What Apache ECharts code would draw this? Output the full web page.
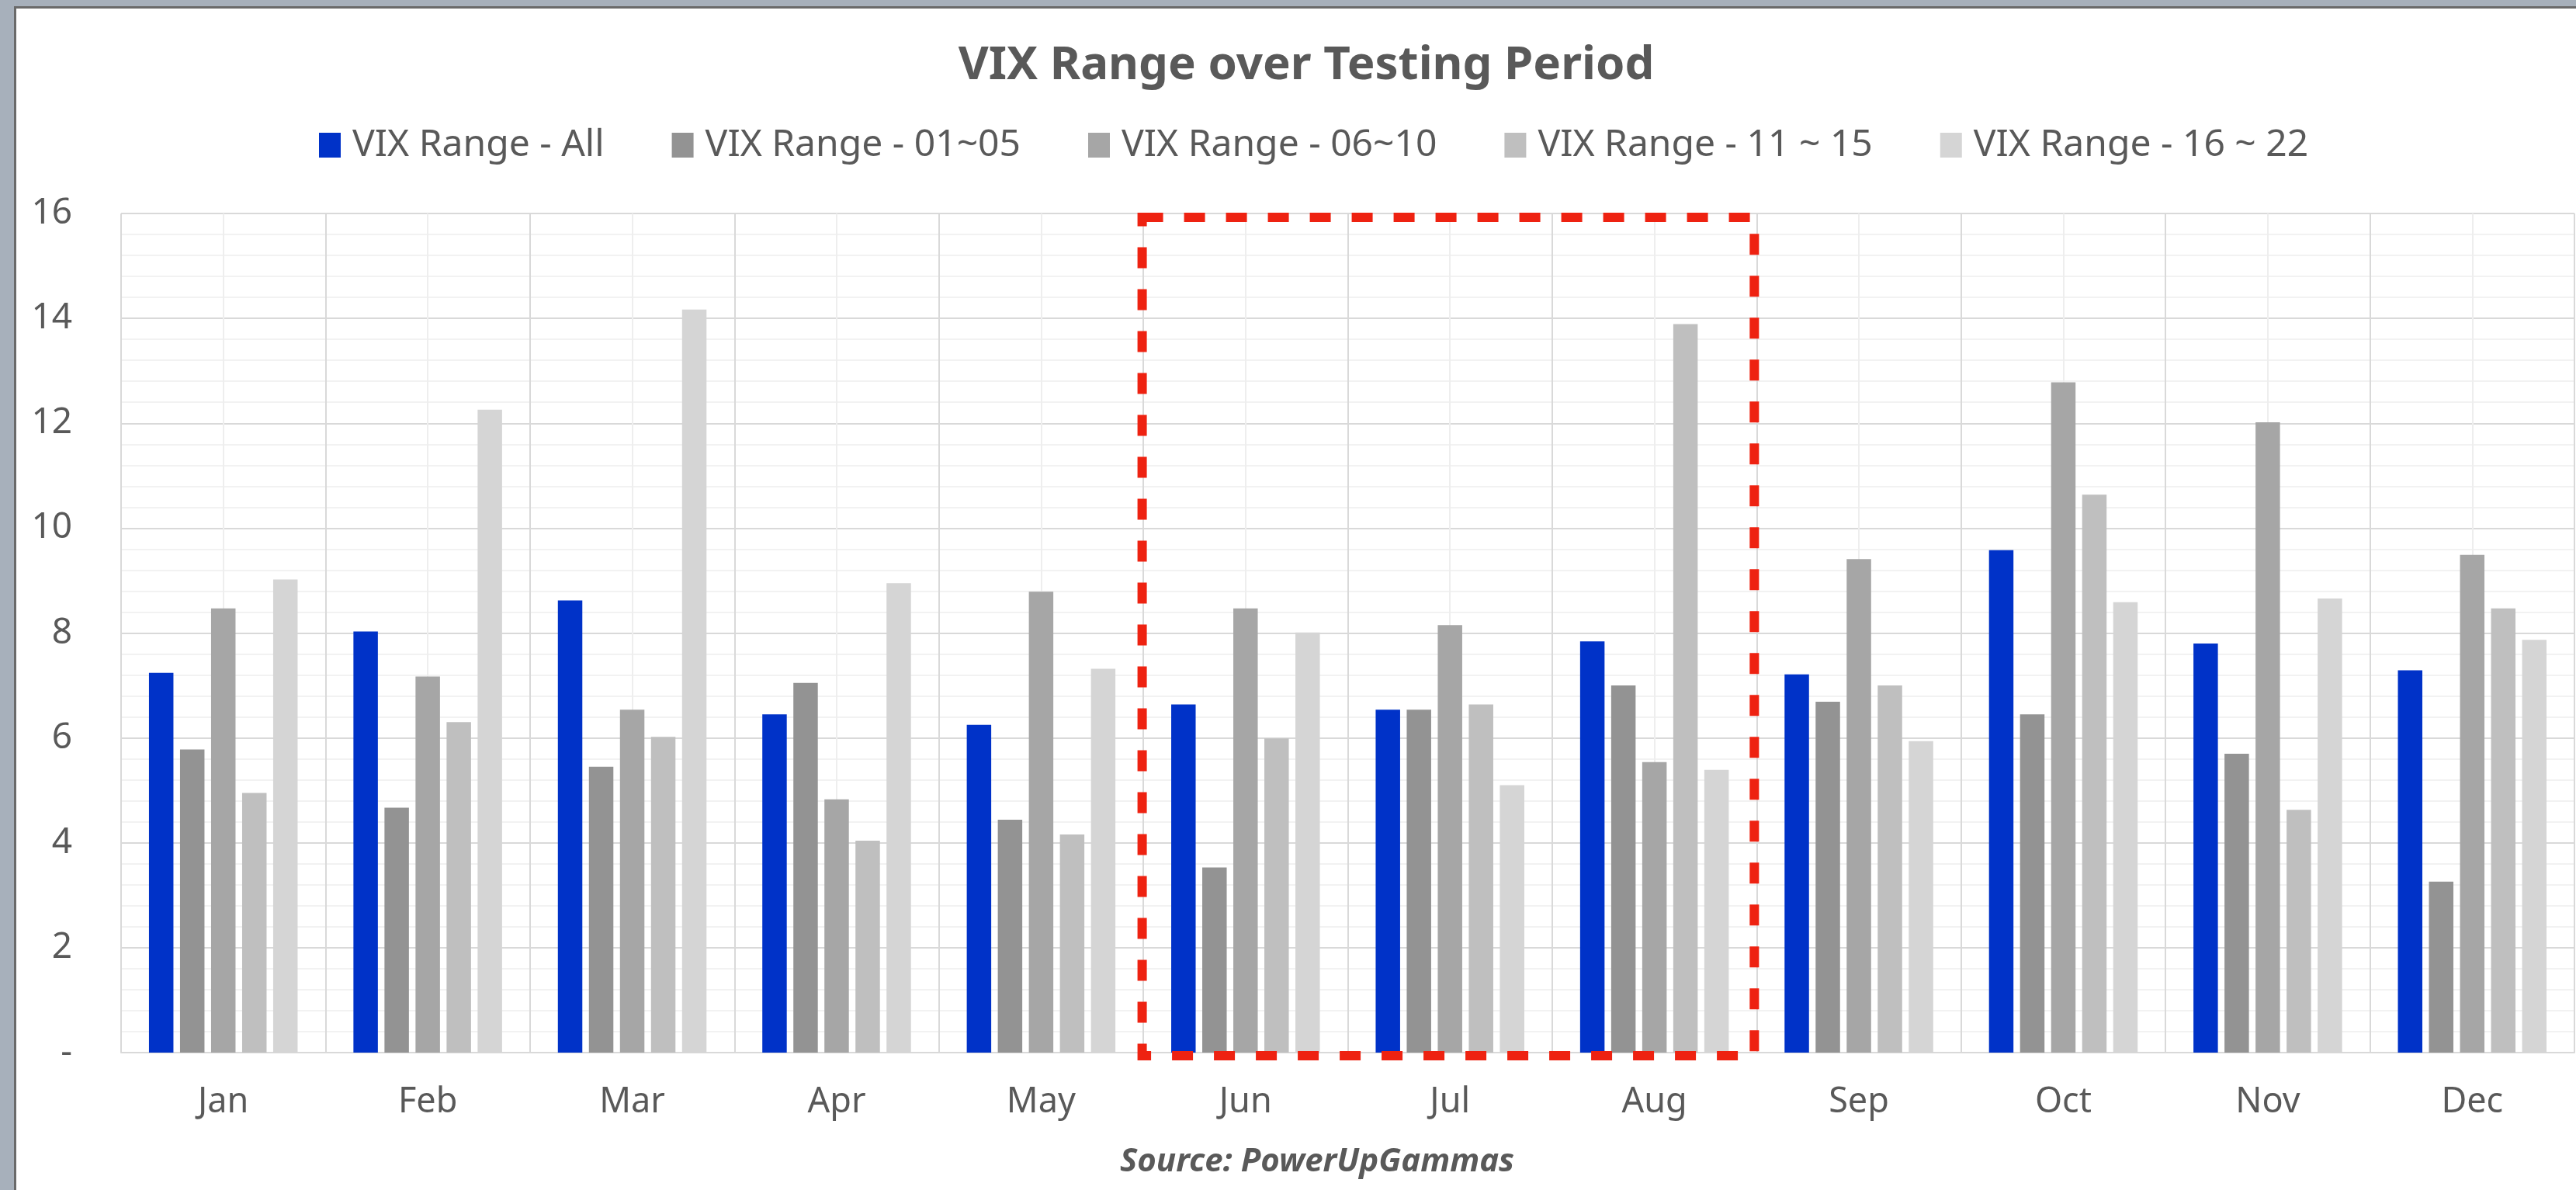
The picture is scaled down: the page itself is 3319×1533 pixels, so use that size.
<!DOCTYPE html>
<html>
<head>
<meta charset="utf-8">
<script src="https://cdn.jsdelivr.net/npm/echarts@6/dist/echarts.min.js"></script>
<style>
html,body{margin:0;padding:0;background:#fff;}
#c{width:3319px;height:1533px;}
</style>
</head>
<body>
<div id="c"></div>
<script>
var months = ['Jan','Feb','Mar','Apr','May','Jun','Jul','Aug','Sep','Oct','Nov','Dec'];
var seriesNames = ['VIX Range - All','VIX Range - 01~05','VIX Range - 06~10','VIX Range - 11 ~ 15','VIX Range - 16 ~ 22'];
var rangeAll  = [7.24, 8.03, 8.62, 6.45, 6.25, 6.64, 6.54, 7.84, 7.21, 9.58, 7.80, 7.29];
var range0105 = [5.78, 4.67, 5.45, 7.05, 4.44, 3.53, 6.54, 7.00, 6.69, 6.45, 5.70, 3.26];
var range0610 = [8.47, 7.17, 6.54, 4.83, 8.79, 8.47, 8.15, 5.54, 9.41, 12.78, 12.02, 9.49];
var range1115 = [4.95, 6.30, 6.02, 4.04, 4.16, 5.99, 6.64, 13.89, 7.00, 10.64, 4.63, 8.47];
var range1622 = [9.02, 12.26, 14.17, 8.95, 7.32, 8.01, 5.10, 5.39, 5.94, 8.59, 8.66, 7.87];
var yTicks = {min: 0, max: 16, step: 2};
var highlightFrom = 'Jun', highlightTo = 'Aug';

var colors = ['#0032C8', '#939393', '#A6A6A6', '#BFBFBF', '#D5D5D5'];
var dataSets = [rangeAll, range0105, range0610, range1115, range1622];
var FONT = 'Noto Sans';
var TXT = '#595959';

var chart = echarts.init(document.getElementById('c'), null, {renderer: 'canvas'});

var series = dataSets.map(function (d, i) {
  return {
    name: seriesNames[i],
    type: 'bar',
    data: d,
    xAxisIndex: 0,
    barWidth: 31.5,
    barGap: '27%',
    itemStyle: {color: colors[i]},
    emphasis: {disabled: true}
  };
});

chart.setOption({
  animation: false,
  backgroundColor: '#ffffff',
  textStyle: {fontFamily: FONT},
  title: [{
    text: 'VIX Range over Testing Period',
    left: 1678, top: 50, textAlign: 'center',
    textStyle: {fontFamily: FONT, fontSize: 60, fontWeight: 'bold', color: TXT}
  }, {
    text: 'Source: PowerUpGammas',
    left: 1692, top: 1471, textAlign: 'center',
    textStyle: {fontFamily: FONT, fontSize: 42, fontWeight: 'bold', fontStyle: 'italic', color: TXT}
  }],
  legend: {
    left: 406, top: 158,
    itemWidth: 28, itemHeight: 32, itemGap: 87,
    icon: 'rect',
    selectedMode: false,
    textStyle: {fontFamily: FONT, fontSize: 48, color: TXT, padding: [0, 0, 0, 10]},
    data: seriesNames
  },
  grid: {left: 156, right: 2, top: 275, bottom: 177, containLabel: false},
  xAxis: [{
    type: 'category',
    data: months,
    axisLine: {show: true, lineStyle: {color: '#d9d9d9', width: 2}},
    axisTick: {show: false},
    axisLabel: {fontFamily: FONT, fontSize: 45, color: TXT, margin: 42},
    splitLine: {show: false}
  }, {
    type: 'value',
    min: 0, max: 24, interval: 1,
    position: 'top',
    axisLine: {show: false}, axisTick: {show: false}, axisLabel: {show: false},
    splitLine: {show: true, lineStyle: {color: ['#d9d9d9', '#eeeeee'], width: 2}}
  }],
  yAxis: {
    type: 'value',
    min: yTicks.min, max: yTicks.max, interval: yTicks.step,
    axisLine: {show: false}, axisTick: {show: false},
    axisLabel: {
      fontFamily: FONT, fontSize: 46, color: TXT, margin: 63,
      formatter: function (v) { return v === 0 ? '-' : String(v); }
    },
    splitLine: {show: true, lineStyle: {color: '#d9d9d9', width: 2}},
    minorTick: {show: false, splitNumber: 5},
    minorSplitLine: {show: true, lineStyle: {color: '#eeeeee', width: 1.5}}
  },
  series: series
});

function drawOverlay() {
  var fromIdx = months.indexOf(highlightFrom);
  var toIdx = months.indexOf(highlightTo) + 1;
  var xl = chart.convertToPixel({xAxisIndex: 1}, fromIdx * 2);
  var xr = chart.convertToPixel({xAxisIndex: 1}, toIdx * 2);
  var yt = chart.convertToPixel({yAxisIndex: 0}, yTicks.max);
  var yb = chart.convertToPixel({yAxisIndex: 0}, yTicks.min);
  chart.setOption({
    graphic: [
      {type: 'rect', silent: true, z: 100, shape: {x: 0, y: 0, width: 3319, height: 8}, style: {fill: '#A7B0BB'}},
      {type: 'rect', silent: true, z: 100, shape: {x: 0, y: 8, width: 3319, height: 3}, style: {fill: '#6a6a6a'}},
      {type: 'rect', silent: true, z: 101, shape: {x: 0, y: 0, width: 18, height: 1533}, style: {fill: '#A7B0BB'}},
      {type: 'rect', silent: true, z: 101, shape: {x: 18, y: 8, width: 3, height: 1525}, style: {fill: '#6a6a6a'}},
      {type: 'rect', silent: true, z: 100,
        shape: {x: xl - 1.5, y: yt + 5, width: (xr - 3) - (xl - 1.5), height: (yb + 4) - (yt + 5)},
        style: {fill: 'none', stroke: '#EE2211', lineWidth: 12, lineDash: [27, 27]}}
    ]
  });
}
drawOverlay();
</script>
</body>
</html>
